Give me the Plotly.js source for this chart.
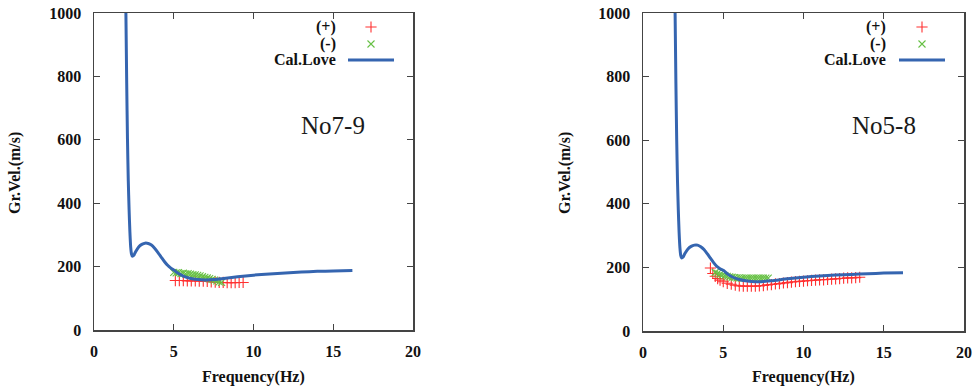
<!DOCTYPE html>
<html>
<head>
<meta charset="utf-8">
<script src="https://cdn.plot.ly/plotly-3.0.1.min.js"></script>
<style>
  html, body { margin: 0; padding: 0; background: #fff; }
  #chart { width: 980px; height: 389px; }
</style>
</head>
<body>
<div id="chart"></div>
<script>
// Group velocity dispersion: observed (+)/(-) picks and calculated Love-wave curve

// Calculated Love-wave group velocity (shared frequency grid)
const calFreq = [2.0, 2.05, 2.1, 2.15, 2.2, 2.25, 2.3, 2.35, 2.4, 2.5, 2.6, 2.8, 3.0, 3.2, 3.4, 3.6, 3.8, 4.0, 4.2, 4.4, 4.6, 4.8, 5.0, 5.3, 5.6, 6.0, 6.5, 7.0, 7.5, 8.0, 9.0, 10.0, 11.0, 12.0, 13.0, 14.0, 15.0, 16.2];
const calVel79 = [1000, 780, 600, 470, 380, 310, 262, 240, 233, 236, 246, 262, 270, 274, 273, 268, 258, 245, 231, 217, 205, 196, 189, 178, 170, 163, 159, 158, 159, 162, 168, 173, 177, 180, 183, 185, 186, 188];
const calVel58 = [1000, 780, 600, 470, 380, 310, 262, 238, 230, 233, 243, 258, 266, 270, 270, 265, 256, 243, 229, 215, 203, 196, 191, 178, 169, 162, 157, 155, 156, 158, 164, 169, 173, 176, 178, 180, 182, 183];

// No7-9 picks
const plusFreq79 = [5.1, 5.35, 5.6, 5.85, 6.1, 6.35, 6.6, 6.85, 7.1, 7.35, 7.6, 7.85, 8.1, 8.35, 8.6, 8.85, 9.1, 9.35];
const plusVel79 = [156, 156, 156, 155, 155, 155, 154, 154, 153, 152, 151, 150, 150, 149, 149, 149, 150, 150];
const minusFreq79 = [5.0, 5.15, 5.3, 5.45, 5.6, 5.75, 5.9, 6.05, 6.2, 6.35, 6.5, 6.65, 6.8, 6.95, 7.1, 7.25, 7.4, 7.55, 7.7, 7.85, 8.0];
const minusVel79 = [182, 180, 181, 178, 179, 177, 178, 176, 175, 174, 172, 171, 168, 166, 164, 162, 160, 157, 155, 152, 150];

// No5-8 picks
const plusFreq58 = [4.2, 4.35, 4.5, 4.65, 4.8, 5.0, 5.25, 5.5, 5.75, 6.0, 6.25, 6.5, 6.75, 7.0, 7.25, 7.5, 7.75, 8.0, 8.25, 8.5, 8.75, 9.0, 9.25, 9.5, 9.75, 10.0, 10.25, 10.5, 10.75, 11.0, 11.25, 11.5, 11.75, 12.0, 12.25, 12.5, 12.75, 13.0, 13.25, 13.5];
const plusVel58 = [198, 181, 172, 165, 160, 155, 150, 147, 144, 142, 141, 141, 141, 141, 142, 143, 145, 146, 148, 149, 151, 152, 154, 155, 156, 157, 158, 159, 160, 161, 161, 162, 163, 164, 165, 166, 167, 167, 168, 169];
const minusFreq58 = [4.5, 4.65, 4.8, 4.95, 5.1, 5.25, 5.4, 5.55, 5.7, 5.85, 6.0, 6.15, 6.3, 6.45, 6.6, 6.75, 6.9, 7.05, 7.2, 7.35, 7.5, 7.65, 7.8];
const minusVel58 = [184, 181, 178, 176, 174, 172, 170, 169, 168, 167, 167, 166, 166, 166, 166, 166, 166, 166, 166, 166, 166, 166, 166];

const xTicks = [0, 5, 10, 15, 20];
const yTicks = [0, 200, 400, 600, 800, 1000];
const legendLabels = ['(+)', '(-)', 'Cal.Love'];
const panelLabels = ['No7-9', 'No5-8'];

const BLUE = '#3565b0';
const RED = '#ff3030';
const GREEN = '#66c044';
const SERIF = 'Liberation Serif';

function plusTrace(x, y, xa, ya) {
  return { x: x, y: y, xaxis: xa, yaxis: ya, type: 'scatter', mode: 'markers',
    marker: { symbol: 'cross-thin', size: 8, color: RED, line: { color: RED, width: 1.1 } },
    showlegend: false, hoverinfo: 'x+y' };
}
function minusTrace(x, y, xa, ya) {
  return { x: x, y: y, xaxis: xa, yaxis: ya, type: 'scatter', mode: 'markers',
    marker: { symbol: 'x-thin', size: 7, color: GREEN, line: { color: GREEN, width: 1.1 } },
    showlegend: false, hoverinfo: 'x+y' };
}
function calTrace(x, y, xa, ya) {
  return { x: x, y: y, xaxis: xa, yaxis: ya, type: 'scatter', mode: 'lines',
    line: { color: BLUE, width: 3, shape: 'spline', smoothing: 0.6 },
    showlegend: false, hoverinfo: 'x+y' };
}

// Key samples drawn on a full-page helper axis (0..1 in both directions)
const keyRows = [1 - 27 / 389, 1 - 44 / 389, 1 - 60 / 389];
const keyMarkX = [371 / 980, 922 / 980];
const keyLine = [[348 / 980, 394 / 980], [899 / 980, 945 / 980]];
const keyTraces = [];
keyMarkX.forEach(function (mx, i) {
  keyTraces.push(plusTrace([mx], [keyRows[0]], 'x3', 'y3'));
  keyTraces.push(minusTrace([mx], [keyRows[1]], 'x3', 'y3'));
  keyTraces.push({ x: keyLine[i], y: [keyRows[2], keyRows[2]], xaxis: 'x3', yaxis: 'y3',
    type: 'scatter', mode: 'lines', line: { color: BLUE, width: 3 }, showlegend: false, hoverinfo: 'skip' });
});

const data = [
  plusTrace(plusFreq79, plusVel79, 'x', 'y'),
  minusTrace(minusFreq79, minusVel79, 'x', 'y'),
  calTrace(calFreq, calVel79, 'x', 'y'),
  plusTrace(plusFreq58, plusVel58, 'x2', 'y2'),
  minusTrace(minusFreq58, minusVel58, 'x2', 'y2'),
  calTrace(calFreq, calVel58, 'x2', 'y2')
].concat(keyTraces);

const tickFont = { family: SERIF, size: 16, color: '#111', weight: 'bold' };
function xAxis(domain, anchor) {
  return { domain: domain, anchor: anchor, range: [0, 20], tickvals: xTicks, ticktext: xTicks.map(String),
    ticks: 'inside', ticklen: 6, tickwidth: 1, tickcolor: '#444', mirror: 'ticks',
    showline: true, linecolor: '#444', linewidth: 1.5, showgrid: false, zeroline: false,
    tickfont: tickFont, ticklabelstandoff: 6, fixedrange: true };
}
function yAxis(domain, anchor) {
  return { domain: domain, anchor: anchor, range: [0, 1000], tickvals: yTicks, ticktext: yTicks.map(String),
    ticks: 'inside', ticklen: 6, tickwidth: 1, tickcolor: '#444', mirror: 'ticks',
    showline: true, linecolor: '#444', linewidth: 1.5, showgrid: false, zeroline: false,
    tickfont: tickFont, ticklabelstandoff: 8, fixedrange: true };
}

const annFont = { family: SERIF, size: 16, color: '#111', weight: 'bold' };
const annotations = [];
const textRight = [338 / 980, 888 / 980];
textRight.forEach(function (tx) {
  legendLabels.forEach(function (lab, r) {
    annotations.push({ xref: 'paper', yref: 'paper', x: tx, y: keyRows[r], xanchor: 'right', yanchor: 'middle',
      text: lab, showarrow: false, font: annFont });
  });
});
// Panel names
[333 / 980, 884 / 980].forEach(function (px, i) {
  annotations.push({ xref: 'paper', yref: 'paper', x: px, y: 1 - 126 / 389, xanchor: 'center', yanchor: 'middle',
    text: panelLabels[i], showarrow: false, font: { family: SERIF, size: 25, color: '#1a1a1a' } });
});
// Axis titles
[[15 / 980, 253.5 / 980], [565 / 980, 803.5 / 980]].forEach(function (p) {
  annotations.push({ xref: 'paper', yref: 'paper', x: p[0], y: 1 - 173 / 389, xanchor: 'center', yanchor: 'middle',
    textangle: -90, text: 'Gr.Vel.(m/s)', showarrow: false, font: annFont });
  annotations.push({ xref: 'paper', yref: 'paper', x: p[1], y: 1 - 377 / 389, xanchor: 'center', yanchor: 'middle',
    text: 'Frequency(Hz)', showarrow: false, font: annFont });
});

const layout = {
  width: 980, height: 389,
  margin: { l: 0, r: 0, t: 0, b: 0, pad: 0 },
  paper_bgcolor: '#ffffff', plot_bgcolor: 'rgba(0,0,0,0)',
  showlegend: false,
  xaxis: xAxis([94 / 980, 413 / 980], 'y'),
  yaxis: yAxis([1 - 330 / 389, 1 - 13 / 389], 'x'),
  xaxis2: xAxis([643 / 980, 964 / 980], 'y2'),
  yaxis2: yAxis([1 - 331 / 389, 1 - 13 / 389], 'x2'),
  xaxis3: { domain: [0, 1], anchor: 'y3', range: [0, 1], visible: false, fixedrange: true },
  yaxis3: { domain: [0, 1], anchor: 'x3', range: [0, 1], visible: false, fixedrange: true },
  annotations: annotations
};

Plotly.newPlot('chart', data, layout, { displayModeBar: false, staticPlot: true });
</script>
</body>
</html>
